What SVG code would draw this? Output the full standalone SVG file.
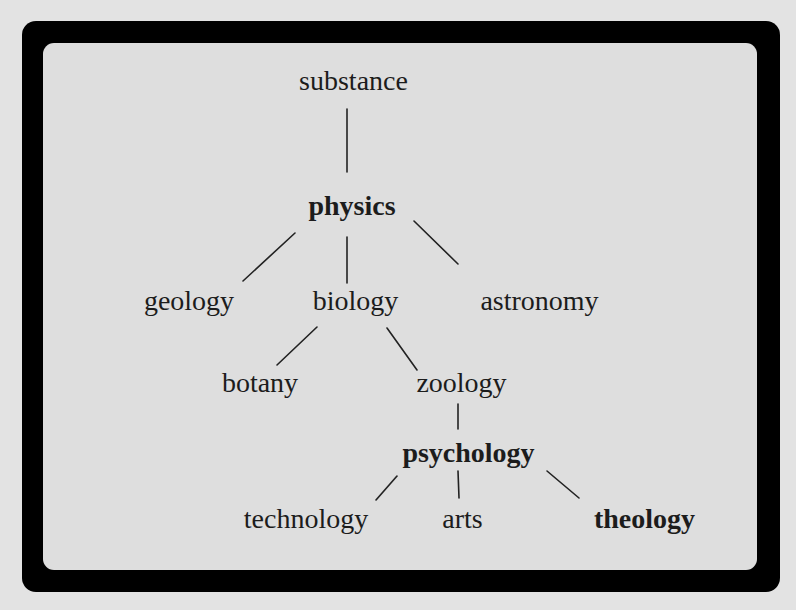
<svg xmlns="http://www.w3.org/2000/svg" width="796" height="610" viewBox="0 0 796 610">
<style>
.t{font-family:"Liberation Serif","Times New Roman",serif;font-size:28px;fill:#1c1c1c;text-anchor:middle}
.b{font-weight:bold}
.c line{stroke:#222;stroke-width:1.6;stroke-linecap:round}
</style>
<rect x="0" y="0" width="796" height="610" fill="#e3e3e3"/>
<rect id="frame" x="22" y="21" width="758" height="571" rx="14" fill="#000"/>
<rect id="panel" x="43" y="43" width="714" height="527" rx="11" fill="#dedede"/>
<g class="c" id="connectors">
<line x1="347" y1="109" x2="347" y2="172"/>
<line x1="295" y1="233" x2="243" y2="281"/>
<line x1="347" y1="237" x2="347" y2="283"/>
<line x1="414" y1="221" x2="458" y2="264"/>
<line x1="317" y1="327" x2="277" y2="365"/>
<line x1="387" y1="328" x2="417" y2="370"/>
<line x1="458" y1="404" x2="458" y2="429"/>
<line x1="397" y1="476" x2="376" y2="500"/>
<line x1="458" y1="471" x2="459" y2="498"/>
<line x1="547" y1="471" x2="579" y2="498"/>
</g>
<g id="substance"><text class="t" x="353.5" y="90">substance</text></g>
<g id="physics"><text class="t b" x="352" y="215">physics</text></g>
<g id="geology"><text class="t" x="189" y="310">geology</text></g>
<g id="biology"><text class="t" x="355.5" y="310">biology</text></g>
<g id="astronomy"><text class="t" x="539.5" y="310">astronomy</text></g>
<g id="botany"><text class="t" x="260" y="392">botany</text></g>
<g id="zoology"><text class="t" x="461.5" y="392">zoology</text></g>
<g id="psychology"><text class="t b" x="468.5" y="462">psychology</text></g>
<g id="technology"><text class="t" x="306" y="528">technology</text></g>
<g id="arts"><text class="t" x="462.5" y="528">arts</text></g>
<g id="theology"><text class="t b" x="644.5" y="528">theology</text></g>
</svg>
